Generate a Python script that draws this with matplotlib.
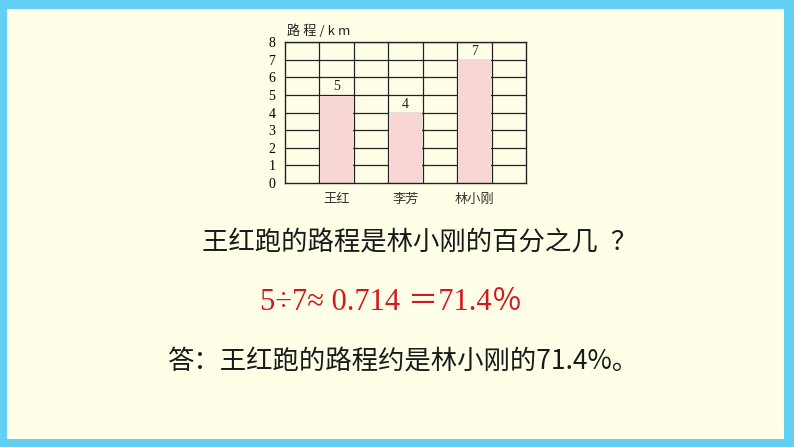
import matplotlib
matplotlib.use("Agg")
import matplotlib.pyplot as plt
from matplotlib.patches import Rectangle

plt.rcParams['font.family'] = ['Noto Sans CJK SC', 'DejaVu Sans']

# chart data
names = ['王红', '李芳', '林小刚']
distances = [5, 4, 7]
y_ticks = [0, 1, 2, 3, 4, 5, 6, 7, 8]
y_label = '路 程 / k m'

question = '王红跑的路程是林小刚的百分之几\u2002？'
formula = '5÷7≈ 0.714 ＝71.4％'
answer = '答：王红跑的路程约是林小刚的71.4%。'

W, H = 794, 447
fig = plt.figure(figsize=(W / 100, H / 100), dpi=100)
fig.patch.set_facecolor('#62d0f3')

# background axes with the cream slide area
bg = fig.add_axes([0, 0, 1, 1])
bg.set_xlim(0, W)
bg.set_ylim(H, 0)
bg.axis('off')
bg.add_patch(Rectangle((7, 9), 784 - 7, 439 - 9, facecolor='#ffffe8', edgecolor='none'))

# bar chart
ax = fig.add_axes([285 / W, 1 - 183 / H, (526 - 285) / W, (183 - 42) / H])
ax.set_facecolor('none')
ax.set_xlim(0, 7)
ax.set_ylim(0, 8)
xs = [1.5, 3.5, 5.5]
for v in range(1, 9):
    ax.axhline(v, color='#222222', lw=0.9, zorder=1)
for v in range(1, 7):
    ax.axvline(v, color='#222222', lw=0.9, zorder=1)
ax.bar(xs, [d - 0.04 for d in distances], width=0.94, color='#f9d6d6', edgecolor='none', zorder=2)
for x, d in zip(xs, distances):
    ax.text(x, d + 0.47, str(d), ha='center', va='center', fontsize=10,
            family='Liberation Serif', color='#222222')
for s in ax.spines.values():
    s.set_color('#222222')
    s.set_linewidth(1.0)
ax.set_yticks(y_ticks)
ax.set_yticklabels([str(t) for t in y_ticks], family='Liberation Serif', fontsize=10)
ax.set_xticks(xs)
ax.set_xticklabels(names, fontsize=9.5, color='#333333')
ax.tick_params(length=0, pad=7)
ax.tick_params(axis='y', pad=7)
fig.text(287 / W, 1 - 31 / H, y_label, fontsize=9.5, ha='left', va='center', color='#222222')

# text lines
fig.text(202 / W, 1 - 243 / H, question, fontsize=19, ha='left', va='center', color='#1a1a1a')
fig.text(391 / W, 1 - 302 / H, formula, fontsize=22, ha='center', va='center',
         color='#d21820', family=['Liberation Serif', 'Noto Sans CJK SC'])
fig.text(403 / W, 1 - 362 / H, answer, fontsize=19, ha='center', va='center', color='#1a1a1a')

fig.savefig('out.png', dpi=100, facecolor=fig.get_facecolor())
